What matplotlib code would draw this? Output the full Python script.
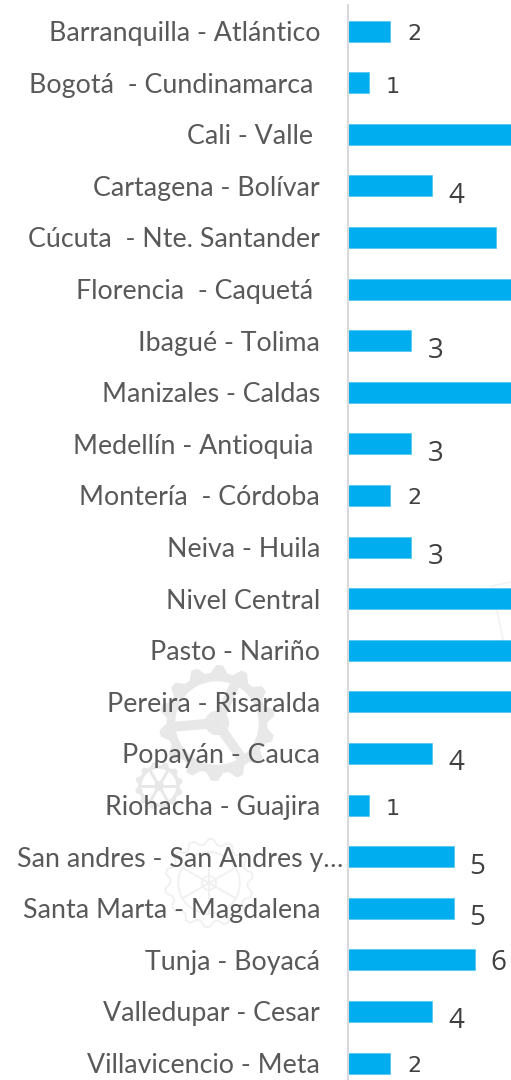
import numpy as np
import matplotlib
matplotlib.use("Agg")
import matplotlib.pyplot as plt
from matplotlib.patches import Polygon, Circle

categories = ["Barranquilla - Atlántico", "Bogotá  - Cundinamarca ", "Cali - Valle ",
              "Cartagena - Bolívar", "Cúcuta  - Nte. Santander", "Florencia  - Caquetá ",
              "Ibagué - Tolima", "Manizales - Caldas", "Medellín - Antioquia ",
              "Montería  - Córdoba", "Neiva - Huila", "Nivel Central", "Pasto - Nariño",
              "Pereira - Risaralda", "Popayán - Cauca", "Riohacha - Guajira",
              "San andres - San Andres y…", "Santa Marta - Magdalena", "Tunja - Boyacá",
              "Valledupar - Cesar", "Villavicencio - Meta"]
values = [2, 1, 8, 4, 7, 8, 3, 8, 3, 2, 3, 8, 8, 8, 4, 1, 5, 5, 6, 4, 2]

W, H = 511, 1080
BLUE = "#00AEEF"
TXT = "#595959"
# old-style numeral look: font, size (pt) and vertical shift (px) by digit
digit_font = {1: "DejaVu Sans", 2: "DejaVu Sans"}
digit_size = {1: 16, 2: 16, 3: 20, 4: 20, 5: 20, 6: 20}
digit_drop = {1: 4, 2: 3, 3: 10, 4: 10, 5: 10, 6: 3}

fig = plt.figure(figsize=(W / 100, H / 100), dpi=100, facecolor="white")

# watermark layer in pixel coordinates
bg = fig.add_axes([0, 0, 1, 1], zorder=0)
bg.set_xlim(0, W); bg.set_ylim(H, 0); bg.axis("off")

def gear(cx, cy, r_out, r_root, n):
    th = np.linspace(0, 2 * np.pi, n * 4, endpoint=False) + 0.1
    r = np.tile([r_root, r_out, r_out, r_root], n)
    return np.c_[cx + r * np.cos(th), cy + r * np.sin(th)]

def spokes(cx, cy, r, angles, col, lw):
    for a in np.deg2rad(angles):
        bg.plot([cx, cx + r * np.cos(a)], [cy, cy + r * np.sin(a)],
                color=col, lw=lw, solid_capstyle="butt")

def solid_gear(cx, cy, r, n, col, angles, spoke_w):
    bg.add_patch(Polygon(gear(cx, cy, r, r * 0.87, n), closed=True, fc=col, ec="none"))
    bg.add_patch(Circle((cx, cy), r * 0.72, fc="white", ec="none"))
    spokes(cx, cy, r * 0.74, angles, col, spoke_w * 0.72)
    bg.add_patch(Circle((cx, cy), r * 0.21, fc=col, ec="none"))
    bg.add_patch(Circle((cx, cy), r * 0.11, fc="white", ec="none"))

def outline_gear(cx, cy, r, n, col):
    bg.add_patch(Polygon(gear(cx, cy, r, r * 0.88, n), closed=True, fc="none", ec=col, lw=1.3))
    bg.add_patch(Circle((cx, cy), r * 0.70, fc="none", ec=col, lw=1.3))
    bg.add_patch(Circle((cx, cy), r * 0.16, fc="none", ec=col, lw=1.3))
    spokes(cx, cy, r * 0.70, [30, 90, 150, 210, 270, 330], col, 1.3)

solid_gear(217, 723, 58, 14, "#E8E8E8", [175, 55, -65], 10)
solid_gear(159, 786, 24, 12, "#E8E8E8", [0, 60, 120, 180, 240, 300], 3)
outline_gear(209, 883, 44, 14, "#F0F0F0")
bg.plot([511, 492, 503], [582, 586, 640], color="#F2F2F2", lw=1.2)

# chart
left = 347.6
unit = 21.2
top, bottom = 5, 1080
ax = fig.add_axes([left / W, 0, (W - left) / W, (bottom - top) / H], zorder=1)
ax.patch.set_alpha(0)
step = 51.6
first = 31
ax.set_ylim((bottom - first) / step, (top - first) / step)
ax.set_xlim(0, (W - left) / unit)

pos = np.arange(len(categories))
ax.barh(pos, values, height=21 / step, color=BLUE, edgecolor="#4CC6F3", linewidth=0.5)
ax.set_yticks(pos, categories, family="Lato", fontsize=19.3, color=TXT)
ax.tick_params(axis="y", length=0, pad=27.5 * 0.72)
ax.tick_params(axis="x", bottom=False, labelbottom=False)
ax.yaxis.get_major_ticks()[16].set_pad(4.5 * 0.72)
for s in ("top", "right", "bottom"):
    ax.spines[s].set_visible(False)
ax.spines["left"].set_color("#D9D9D9")
ax.spines["left"].set_linewidth(1.5)

# labels of the longer bars fall beyond the right edge of the canvas
for i, v in zip(pos, values):
    if v in digit_size:
        ax.annotate(str(v), (v, i), xytext=(24 * 0.72, -digit_drop[v] * 0.72),
                    textcoords="offset points", ha="center", va="center",
                    family=digit_font.get(v, "Open Sans"), fontsize=digit_size[v], color="#404040",
                    annotation_clip=False)

fig.savefig("out.png", dpi=100, facecolor="white")
